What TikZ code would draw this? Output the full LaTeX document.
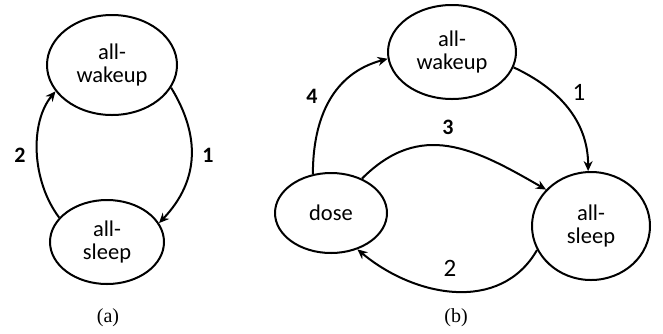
\documentclass[tikz,border=0pt]{standalone}
\usepackage{fontspec}
\setmainfont{Carlito}
\newfontfamily\capfont{Liberation Serif}
\usetikzlibrary{shapes.geometric,arrows.meta}

\begin{document}
\begin{tikzpicture}[x=1pt,y=-1pt,
  state/.style={draw,ellipse,line width=2pt,inner sep=0pt,align=center,
    font=\fontsize{22.5}{23}\selectfont},
  trans/.style={line width=2pt,-{Stealth[length=10pt,width=9pt]}},
  boldnum/.style={font=\fontsize{22}{22}\selectfont\bfseries},
  plainnum/.style={font=\fontsize{25}{25}\selectfont},
  caption/.style={font=\capfont\fontsize{20}{20}\selectfont}]
  \useasboundingbox (0,0) rectangle (663,333);

  % ---- (a) two-state cycle ----
  \node[state,minimum width=130pt,minimum height=100pt] (wa) at (112,65) {all-\\wakeup};
  \node[state,minimum width=114pt,minimum height=84pt] (sa) at (107,242) {all-\\sleep};
  \draw[trans] (wa.-21) .. controls (200,135) and (200,180) .. (sa.20);
  \draw[trans] (sa.153) .. controls (31,180) and (30,122) .. (wa.-155);
  \node[boldnum] (la1) at (208,155) {1};
  \node[boldnum] (la2) at (20,155) {2};
  \node[caption] (capa) at (108,318) {(a)};

  % ---- (b) three-state cycle ----
  \node[state,minimum width=128pt,minimum height=94pt] (wb) at (452,52) {all-\\wakeup};
  \node[state,minimum width=112pt,minimum height=80pt] (db) at (331,213) {dose};
  \node[state,minimum width=118pt,minimum height=108pt] (sb) at (591,226) {all-\\sleep};
  \draw[trans] (wb.-14) to[out=-25,in=90] (sb.93);
  \draw[trans] (db.115) to[out=90,in=195,looseness=1.05] (wb.186);
  \draw[trans] (db.48) to[out=45,in=150,looseness=1.15] (sb.141);
  \draw[trans] (sb.204) to[out=-120,in=-40,looseness=1.05] (db.-54);
  \node[plainnum] (lb1) at (579,92) {1};
  \node[plainnum] (lb2) at (450,268) {2};
  \node[boldnum] (lb3) at (448,127) {3};
  \node[boldnum] (lb4) at (312,96) {4};
  \node[caption] (capb) at (456,318) {(b)};
\end{tikzpicture}
\end{document}
